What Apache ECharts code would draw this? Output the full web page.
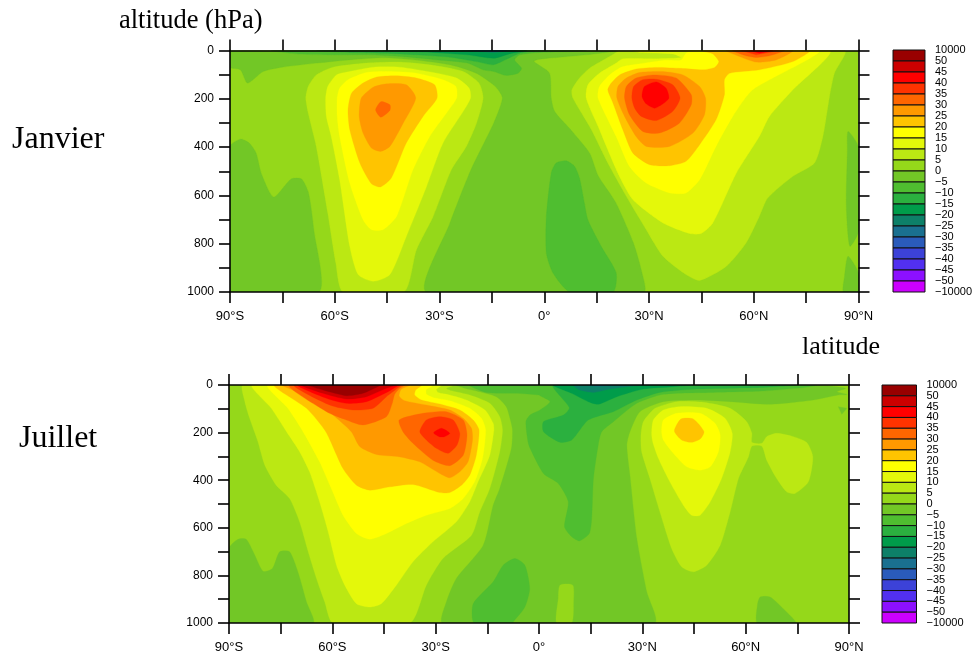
<!DOCTYPE html>
<html>
<head>
<meta charset="utf-8">
<style>html,body{margin:0;padding:0;background:#fff}#c{width:975px;height:654px}</style>
<script src="https://cdn.jsdelivr.net/npm/echarts@6/dist/echarts.min.js"></script>
</head>
<body>
<div id="c"></div>
<script>
// Band colours, highest band first, with the colour bar's labels
const bandColors = ['#990000','#CC0000','#FF0000','#FF3300','#FF6600','#FF9900','#FFC400','#FFFF00','#E4F80A','#BBE813','#95D81A','#72C726','#4FBE30','#2BB03F','#009C4A','#0D8068','#1A7090','#2A5BBB','#3C42D8','#5230F0','#8C10FF','#CC00FF'];
const colorbarLabels = ['10000','50','45','40','35','30','25','20','15','10','5','0','\u22125','\u221210','\u221215','\u221220','\u221225','\u221230','\u221235','\u221240','\u221245','\u221250','\u221210000'];
const latLabels = ['90\u00B0S','60\u00B0S','30\u00B0S','0\u00B0','30\u00B0N','60\u00B0N','90\u00B0N'];
const pressureLabels = ['0','200','400','600','800','1000'];

// Contour outlines, as [latitude, hPa]
const wholeField = [[-90,0],[90,0],[90,1000],[-90,1000]];

// ---- Janvier ----
const janM0Center = [[-90,0],[-90,69],[-87,80],[-85,135],[-80.5,87],[-75,69],[-65,52],[-56,39],[-46,30],[-37,39],[-27,59],[-19.5,94],[-14,149],[-12,197],[-14.5,301],[-21,494],[-27,714],[-33.7,1000],[28.5,1000],[28,921],[25.5,795],[20.5,630],[15.5,520],[13,425],[8,335],[3,253],[2,197],[1.5,94],[-3,45],[-1.3,36],[4.4,28],[12,18],[17.7,8],[21.6,0]];
const janM0Left = [[-90,397],[-87,367],[-84.5,383],[-82.5,425],[-81,510],[-77.5,607],[-72.5,532],[-69.5,532],[-67.5,590],[-66,741],[-64.5,1000],[-90,1000]];
const janM0EdgeA = [[87,335],[90,400],[90,750],[87.5,810],[86.5,640],[86.8,420]];
const janM0EdgeB = [[87,852],[90,920],[90,1000],[85.7,1000],[86,935]];
const janM5Blob = [[6.3,457],[8.7,480],[10.1,528],[11.5,632],[12.5,701],[16.3,811],[20.6,921],[19.7,1000],[7.3,1000],[2.5,921],[0.6,839],[0.6,687],[2,508],[3.4,466]];
const janM5Strip = [[-78,0],[-70,15],[-60,18],[-50,18],[-41,25],[-32,37],[-22,52],[-17.5,80],[-14.5,87],[-11,103],[-7.5,94],[-6.5,73],[-8.5,39],[-7,18],[-1,8],[7,5],[12,0]];
const janM10 = [[-65,0],[-55.7,8],[-46,11],[-36.6,18],[-27,28],[-19.4,46],[-14.6,59],[-10.8,36],[-7,11],[-3,3],[1,0]];
const janM15 = [[-46,0],[-32,8],[-22,18],[-14.5,32],[-10,14],[-5,0]];
const janM20 = [[-24,0],[-14.5,8],[-8,0]];
const janM25 = [[-22,0],[-14,4],[-10,0]];
const janM30 = [[-20,0],[-15,3],[-11,0]];
const janP5S = [[-68.3,197],[-67.6,149],[-65.3,101],[-60.5,69],[-51,52],[-41.4,48],[-31.8,61],[-23.2,87],[-18.7,135],[-17.5,197],[-19.4,301],[-22.3,397],[-26.6,494],[-31.8,687],[-36.6,825],[-40.2,1000],[-57.6,1000],[-59.7,880],[-62,673],[-65.3,397],[-67.6,259]];
const janP10S = [[-62.6,197],[-62,149],[-59.5,101],[-55.7,87],[-49,69],[-41.4,69],[-31.8,91],[-25.1,114],[-21.5,156],[-21.1,197],[-23.2,252],[-29,383],[-33.7,563],[-39.5,770],[-44.2,928],[-49,956],[-53.3,928],[-55.7,811],[-58.6,535],[-61,356],[-62.4,273]];
const janP15S = [[-59.3,197],[-58.6,156],[-56.2,121],[-51,91],[-44.2,87],[-36.6,94],[-29,121],[-25.3,149],[-25.1,197],[-28,259],[-32.8,356],[-37.6,494],[-42.3,687],[-46.2,742],[-49.5,742],[-51.9,701],[-55.7,549],[-58.6,356],[-59.3,273]];
const janP20S = [[-56.2,246],[-55.2,177],[-51.9,135],[-48,110],[-42.3,105],[-36.6,114],[-31.4,142],[-30.7,197],[-34.7,273],[-39.5,383],[-43.8,528],[-46.9,565],[-49.5,552],[-52.8,466],[-55.7,328]];
const janP25S = [[-53,273],[-52.4,197],[-49,152],[-45.2,138],[-39.5,142],[-36.8,197],[-40.4,301],[-44.2,397],[-46.9,418],[-49.5,404],[-51.9,342]];
const janP30S = [[-48.3,246],[-46.8,212],[-44.2,225],[-44.2,248],[-46.8,276]];
const janP5N = [[7.9,163],[10.1,114],[13,73],[18.7,25],[21.1,4],[22,0],[86,0],[83.1,94],[81.7,190],[79.8,356],[77.4,466],[71.2,521],[64,611],[61.6,687],[57.8,797],[52.1,894],[44.5,952],[40.6,928],[34,852],[29.2,742],[23.5,604],[18.2,466],[13.5,328],[8.2,197]];
const janP10N = [[12,197],[12.5,142],[15.8,94],[20.6,52],[22.5,34],[32.1,34],[39.2,29],[36.8,14],[27.3,8],[25.4,0],[81.7,0],[71.2,163],[64.5,273],[61.6,356],[55,508],[48.3,714],[44.9,758],[41.6,758],[34,714],[25.4,618],[21.1,508],[15.4,314]];
const janP15N = [[15.4,197],[15.8,149],[18.7,101],[22,69],[26.3,57],[34,41],[39.2,39],[40.6,11],[42.6,0],[78.8,0],[59.7,163],[54,273],[49.2,397],[44.5,535],[40.6,590],[35.9,590],[29.2,549],[24.4,480],[20.6,356]];
const janP20N = [[18.2,163],[19.2,135],[21.6,101],[26.3,77],[32.1,70],[39.2,74],[45.4,80],[48.8,70],[50,46],[48.3,14],[45.4,3],[46,0],[76,0],[71.2,46],[61.6,80],[53.1,94],[51.6,121],[51.6,183],[49.2,287],[44.5,390],[40.6,459],[35.9,477],[30.2,473],[25.4,425],[22.5,328],[19.7,218]];
const janP25N = [[20.8,197],[21.1,149],[23.5,114],[27.3,91],[34,87],[39.7,101],[44.5,149],[46.2,197],[45.9,266],[42.6,342],[35.9,397],[29.2,397],[26.3,356],[23,273]];
const janP30N = [[23,197],[23.5,149],[26.3,114],[31.6,101],[37.8,114],[42.1,183],[42.1,225],[38.7,301],[33,342],[28.2,335],[24.4,266]];
const janP35N = [[25.1,197],[25.6,149],[28.2,121],[32.1,119],[36.8,142],[38.9,197],[36.8,252],[32.1,290],[27.8,273],[25.9,239]];
const janP40N = [[28,190],[28.7,149],[32.1,130],[34.9,156],[35.7,197],[34,221],[31.6,239],[29.2,221]];
const janP25Top = [[52.1,0],[55.4,22],[60.7,48],[66.4,39],[71.2,0]];
const janP30Top = [[54,0],[57.8,22],[60.7,29],[64.5,22],[68.8,0]];
const janP35Top = [[56.4,0],[60.7,18],[67.4,0]];
const janP40Top = [[58.8,0],[61.6,11],[65.5,0]];

// ---- Juillet ----
const julM0Left = [[-90,687],[-87.4,648],[-85,648],[-82.5,715],[-80.1,783],[-77.4,771],[-75.3,701],[-72.4,701],[-70,785],[-67.5,912],[-65.6,1000],[-90,1000]];
const julM0Center = [[-24,0],[-21.6,14],[-18.2,25],[-12.4,49],[-9.5,91],[-8.3,147],[-7.7,189],[-8,266],[-11.4,435],[-13.3,505],[-16.2,673],[-24,813],[-26.9,912],[-28,1000],[33.5,1000],[31.3,870],[28.4,645],[26.4,379],[25.5,252],[26.4,196],[29.3,112],[36.1,70],[45.8,63],[55.5,70],[67.1,81],[79.7,63],[86.9,42],[89.5,40],[86.5,28],[89,14],[80.6,0]];
const julM0Arrow = [[86.9,91],[89.4,98],[87.9,123]];
const julM0Patch = [[64.2,891],[67.1,891],[70.9,940],[74.5,1000],[63.4,1000],[63.4,926]];
const julP0Lens = [[6.1,841],[9.8,841],[10,912],[9.5,1000],[5.1,1000],[5.6,898]];
const julM5Blob = [[-19.1,919],[-13.3,827],[-10.4,757],[-7,729],[-4.1,757],[-2.7,855],[-4.1,933],[-7.5,996],[-7.5,1000],[-18.8,1000]];
const julM5Main = [[-20.1,0],[-15.3,31],[-6.6,35],[0,42],[0.3,45],[3.2,70],[0.3,105],[-2.6,126],[-3.8,154],[-3.2,238],[-2.6,266],[1.3,372],[5.6,414],[8.5,491],[7.4,596],[9.5,638],[11.7,655],[14.6,624],[15.3,561],[15.8,393],[17.2,252],[18.2,196],[21.6,154],[28.4,77],[36.1,39],[50.6,31],[65.2,25],[76.8,11],[80.6,0]];
const julM10 = [[4.2,0],[8.8,95],[7.1,126],[1.3,154],[1.3,196],[6.1,241],[9.5,231],[14.3,147],[21.6,112],[28.4,63],[35.1,31],[45.8,17],[65.2,10],[74.8,0]];
const julM15 = [[4.2,0],[9.5,35],[14.3,70],[17.2,81],[22.6,49],[30.3,17],[39,7],[43.9,0]];
const julM20 = [[10,0],[11.9,21],[15.8,31],[20.6,17],[25.5,7],[30.3,0]];
const julM25 = [[14,0],[17,5],[24,0]];
const julP5S = [[-85.9,0],[-24.5,0],[-26.9,14],[-25.4,24],[-20.1,42],[-14.3,77],[-11.4,133],[-10.6,189],[-11.4,280],[-14.3,435],[-17.2,533],[-19.6,631],[-27.9,729],[-32.7,841],[-37.5,1000],[-59.8,1000],[-62.2,912],[-64.6,813],[-67,701],[-69.5,575],[-72.4,477],[-76.3,421],[-79.6,337],[-81.6,238],[-84,140],[-85.4,70]];
const julP10S = [[-83.2,0],[-28,0],[-28.8,7],[-29.8,18],[-29.3,32],[-25.9,42],[-21.1,63],[-15.7,105],[-13.3,161],[-13.1,189],[-14.3,295],[-17.7,407],[-20.1,491],[-24,575],[-30.8,659],[-36.6,743],[-41.4,841],[-45.8,919],[-49.1,933],[-53,919],[-56.4,841],[-58.8,757],[-61.2,617],[-63.7,491],[-66.6,365],[-69.5,280],[-73.3,196],[-77.7,98]];
const julP15S = [[-78.7,0],[-30.8,0],[-31.2,7],[-32.7,18],[-32.7,38],[-30.8,52],[-25.9,66],[-20.1,98],[-16.7,140],[-15.5,189],[-16.4,309],[-18.7,407],[-22,477],[-25.9,519],[-32.7,547],[-38.5,582],[-44.3,624],[-49.1,648],[-53,624],[-56.9,547],[-60.3,435],[-63.7,323],[-68.5,196],[-72.9,98]];
const julP20S = [[-76.7,0],[-34.1,0],[-35.8,21],[-36.1,42],[-34.1,63],[-28.8,80],[-23,105],[-19.1,147],[-17.4,189],[-18.2,295],[-20.1,379],[-22.5,421],[-25.9,452],[-28.8,452],[-36.6,418],[-43.3,428],[-49.1,442],[-53,421],[-56.9,351],[-61.9,196],[-67.5,98]];
const julP25S = [[-74.3,0],[-37.5,0],[-40,18],[-40.6,46],[-39,66],[-32.7,84],[-25.9,105],[-22,140],[-19.6,182],[-19.3,231],[-20.6,323],[-23,365],[-25.9,390],[-28.8,372],[-34.6,323],[-40.4,302],[-47.2,292],[-52,259],[-54.5,196],[-59.8,126],[-65.6,56]];
const julP30Top = [[-72.5,0],[-61.7,112],[-55.9,147],[-51.1,168],[-44.3,133],[-42.6,77],[-41.9,39],[-40.4,14],[-39,0]];
const julP30Hump = [[-40.6,147],[-33.7,119],[-26.9,112],[-22,147],[-20.9,210],[-22,295],[-25.9,339],[-30.8,316],[-36.6,245],[-39.5,196]];
const julP35Top = [[-71,0],[-60.8,84],[-54,105],[-48.2,98],[-44.3,49],[-41.4,17],[-40,0]];
const julP35Hump = [[-34.6,196],[-32.7,147],[-28.8,133],[-24.9,147],[-23,203],[-23.8,252],[-26.4,287],[-29.8,266],[-32.7,231]];
const julP40Top = [[-70,0],[-61.7,56],[-55.9,77],[-50.1,70],[-43.8,28],[-41.4,7],[-40.6,0]];
const julP40Hump = [[-30.6,201],[-28.3,182],[-25.9,203],[-27.4,217],[-29,217]];
const julP45Top = [[-69,0],[-62.7,35],[-55.9,59],[-50.1,49],[-44.3,14],[-41.5,0]];
const julP50Top = [[-67,0],[-62.7,21],[-55.9,45],[-51.1,35],[-46.2,3],[-45.5,0]];
const julP5N = [[29.6,210],[30.3,154],[33.7,98],[40,70],[47.7,73],[55.5,98],[60.3,154],[61.8,203],[61.8,241],[64.7,245],[66.1,217],[69,203],[73.9,217],[77.7,241],[79.5,302],[78.2,407],[74.3,456],[71.9,449],[69,393],[66.1,316],[64.7,257],[61.8,257],[60.8,302],[57.9,393],[55.5,533],[52.6,673],[48.7,757],[44.8,785],[41.4,764],[38.5,687],[35.1,533],[32.2,393],[29.8,280]];
const julP10N = [[32.7,203],[33.2,147],[36.1,105],[40.9,91],[48.7,98],[54,140],[56.1,203],[55.5,280],[53,393],[49.7,491],[46.8,547],[44.3,547],[41.9,505],[38,407],[34.7,309],[33,238]];
const julP15N = [[35.6,196],[36.1,147],[40,119],[46.8,119],[51.1,161],[52.6,210],[52.1,280],[49.7,344],[46.8,358],[42.9,344],[39,287],[36.1,231]];
const julP20N = [[39.3,193],[41.2,143],[44.8,143],[47.9,196],[46.8,227],[44.3,241],[41.4,231]];

// Band index into bandColors, by the band's lower bound
const B = {p50:0,p45:1,p40:2,p35:3,p30:4,p25:5,p20:6,p15:7,p10:8,p5:9,p0:10,m0:11,m5:12,m10:13,m15:14,m20:15,m25:16,m30:17};

const janLayers = [
  [B.p0,wholeField],[B.m0,janM0Center],[B.m0,janM0Left],[B.m0,janM0EdgeA],[B.m0,janM0EdgeB],
  [B.m5,janM5Blob],[B.m5,janM5Strip],[B.m10,janM10],[B.m15,janM15],[B.m20,janM20],[B.m25,janM25],[B.m30,janM30],
  [B.p5,janP5S],[B.p10,janP10S],[B.p15,janP15S],[B.p20,janP20S],[B.p25,janP25S],[B.p30,janP30S],
  [B.p5,janP5N],[B.p10,janP10N],[B.p15,janP15N],[B.p20,janP20N],[B.p25,janP25N],[B.p30,janP30N],[B.p35,janP35N],[B.p40,janP40N],
  [B.p25,janP25Top],[B.p30,janP30Top],[B.p35,janP35Top],[B.p40,janP40Top]
];
const julLayers = [
  [B.p0,wholeField],[B.m0,julM0Left],[B.m0,julM0Center],[B.m0,julM0Arrow],[B.m0,julM0Patch],[B.p0,julP0Lens],
  [B.m5,julM5Blob],[B.m5,julM5Main],[B.m10,julM10],[B.m15,julM15],[B.m20,julM20],[B.m25,julM25],
  [B.p5,julP5S],[B.p10,julP10S],[B.p15,julP15S],[B.p20,julP20S],[B.p25,julP25S],
  [B.p30,julP30Top],[B.p30,julP30Hump],[B.p35,julP35Top],[B.p35,julP35Hump],[B.p40,julP40Top],[B.p40,julP40Hump],[B.p45,julP45Top],[B.p50,julP50Top],
  [B.p5,julP5N],[B.p10,julP10N],[B.p15,julP15N],[B.p20,julP20N]
];

const FONT = 'Liberation Sans';
const SERIF = 'Liberation Serif';
const AXW = 1.6;
const line = {show:true,onZero:false,lineStyle:{color:'#000',width:AXW}};
const tick = {show:true,inside:false,length:11,lineStyle:{color:'#000',width:AXW}};
const latFmt = v => (v % 30 === 0) ? latLabels[(v + 90) / 30] : '';
const presFmt = v => (v % 200 === 0) ? pressureLabels[v / 200] : '';

function latAxis(gi, pos, labelled){
  return {type:'value',gridIndex:gi,position:pos,min:-90,max:90,interval:15,z:6,splitLine:{show:false},axisLine:line,axisTick:tick,
    axisLabel:labelled?{show:true,formatter:latFmt,fontFamily:FONT,fontSize:13,color:'#000',margin:18,hideOverlap:false,showMinLabel:true,showMaxLabel:true}:{show:false}};
}
function presAxis(gi, pos, labelled){
  return {type:'value',gridIndex:gi,position:pos,inverse:true,min:0,max:1000,interval:100,z:6,splitLine:{show:false},axisLine:line,axisTick:tick,
    axisLabel:labelled?{show:true,formatter:presFmt,fontFamily:FONT,fontSize:12,color:'#000',margin:16,hideOverlap:false,showMinLabel:true,showMaxLabel:true}:{show:false}};
}
function fieldSeries(layers, ax){
  return {type:'custom',coordinateSystem:'cartesian2d',xAxisIndex:ax,yAxisIndex:ax,clip:true,silent:true,animation:false,z:2,
    data:layers.map((l,i)=>[i]),
    renderItem:(params,api)=>{
      const l = layers[params.dataIndex];
      return {type:'polygon',shape:{points:l[1].map(p=>api.coord(p)),smooth:l[1].length>4?0.22:0},style:{fill:bandColors[l[0]],stroke:bandColors[l[0]],lineWidth:0.3}};
    }};
}
function barSeries(ax){
  return {type:'custom',coordinateSystem:'cartesian2d',xAxisIndex:ax,yAxisIndex:ax,clip:false,silent:true,animation:false,z:2,
    data:bandColors.map((c,i)=>[i]),
    renderItem:(params,api)=>{
      const i = params.dataIndex;
      const a = api.coord([0,i]), b = api.coord([1,i+1]);
      return {type:'rect',shape:{x:a[0],y:a[1],width:b[0]-a[0],height:b[1]-a[1]},style:{fill:bandColors[i],stroke:'#111',lineWidth:1}};
    }};
}
function cbarYAxis(gi){
  return {type:'value',gridIndex:gi,position:'right',inverse:true,min:0,max:22,interval:1,splitLine:{show:false},axisLine:{show:false},axisTick:{show:false},
    axisLabel:{show:true,formatter:v=>colorbarLabels[v],fontFamily:FONT,fontSize:11,color:'#000',margin:10,align:'left',hideOverlap:false,showMinLabel:true,showMaxLabel:true}};
}
function cbarXAxis(gi){
  return {type:'value',gridIndex:gi,min:0,max:1,show:false};
}
const textStyle = (t,x,y,size) => ({type:'text',left:x,top:y,silent:true,style:{text:t,fontFamily:SERIF,fontSize:size,fill:'#000'}});

const chart = echarts.init(document.getElementById('c'),null,{renderer:'canvas'});
chart.setOption({
  animation:false,
  backgroundColor:'#fff',
  grid:[
    {left:230,top:50.5,width:628.5,height:241.5},
    {left:229,top:385,width:620,height:238},
    {left:893,top:50,width:34.5,height:242},
    {left:882,top:385,width:34.5,height:238}
  ],
  xAxis:[latAxis(0,'bottom',true),latAxis(0,'top',false),latAxis(1,'bottom',true),latAxis(1,'top',false),cbarXAxis(2),cbarXAxis(3)],
  yAxis:[presAxis(0,'left',true),presAxis(0,'right',false),presAxis(1,'left',true),presAxis(1,'right',false),cbarYAxis(2),cbarYAxis(3)],
  series:[fieldSeries(janLayers,0),fieldSeries(julLayers,2),barSeries(4),barSeries(5)],
  graphic:[
    textStyle('altitude (hPa)',119,8,26.5),
    textStyle('Janvier',12,124,32),
    textStyle('latitude',802,334,26),
    textStyle('Juillet',19,423,32)
  ]
});
</script>
</body>
</html>
